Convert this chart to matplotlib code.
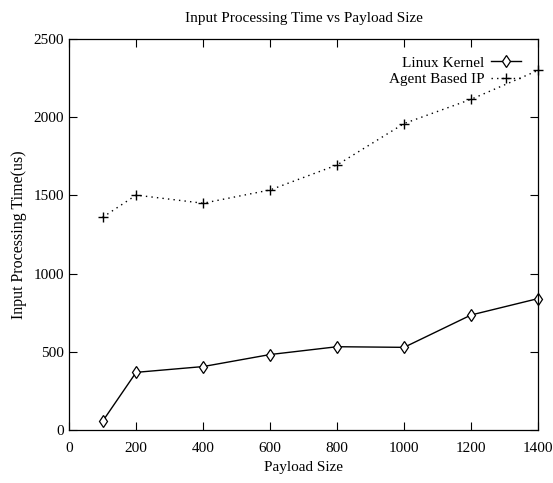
import matplotlib
matplotlib.use("Agg")
import matplotlib.pyplot as plt

payload = [100, 200, 400, 600, 800, 1000, 1200, 1400]
linux_kernel = [55, 368, 405, 482, 532, 528, 735, 840]
agent_based = [1360, 1502, 1450, 1535, 1695, 1960, 2115, 2300]

plt.rcParams["font.family"] = ["Liberation Serif", "DejaVu Serif"]

fig = plt.figure(figsize=(5.53, 4.83), dpi=100)
ax = fig.add_axes([0.125, 0.110, 0.848, 0.809])

ax.plot(payload, linux_kernel, color="black", lw=1.0, marker="d", ms=6,
        mfc="white", mec="black", mew=0.9, label="Linux Kernel", clip_on=False)
ax.plot(payload, agent_based, color="black", lw=1.0, ls=(0, (1, 3)), marker="+",
        ms=7, mew=1.0, label="Agent Based IP", clip_on=False)

ax.set_xlim(0, 1400)
ax.set_ylim(0, 2500)
ax.set_xticks(range(0, 1401, 200))
ax.set_yticks(range(0, 2501, 500))
ax.tick_params(direction="in", length=6, top=True, right=True, labelsize=11)
ax.tick_params(axis="x", pad=9)
for s in ax.spines.values():
    s.set_linewidth(0.9)

ax.set_title("Input Processing Time vs Payload Size", fontsize=11, pad=12)
ax.set_xlabel("Payload Size", fontsize=11, labelpad=4)
ax.set_ylabel("Input Processing Time(us)", fontsize=11.5, labelpad=5)

leg = ax.legend(loc="upper right", frameon=False, fontsize=11, markerfirst=False,
                handlelength=2.0, borderaxespad=0.7, labelspacing=0.2, handletextpad=0.4)
for t in leg.get_texts():
    t.set_ha("right")

fig.savefig("out.png", dpi=100)
